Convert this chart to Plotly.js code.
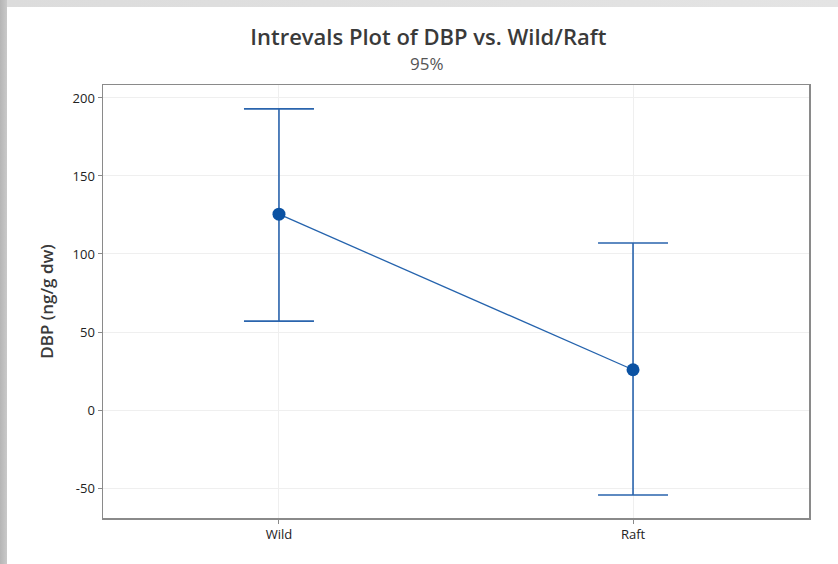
<!DOCTYPE html>
<html>
<head>
<meta charset="utf-8">
<script src="https://cdn.plot.ly/plotly-3.0.1.min.js"></script>
<style>
html,body{margin:0;padding:0;width:838px;height:564px;overflow:hidden;
background:linear-gradient(90deg,#b5b5b5 0px,#c9c9c9 7px,#dcdcdc 7px,#e4e4e4 100%);}
#chart{position:absolute;left:7px;top:7px;width:831px;height:557px;background:#fff;}
</style>
</head>
<body>
<div id="chart"></div>
<script>
var categories = ["Wild", "Raft"];
var means = [125.5, 25.8];
var upper = [193.0, 107.0];
var lower = [57.0, -54.5];
var yTicks = [-50, 0, 50, 100, 150, 200];
var yTickLabels = ["-50", "0", "50", "100", "150", "200"];

var plus = means.map(function(m, i){ return upper[i] - m; });
var minus = means.map(function(m, i){ return m - lower[i]; });

var trace = {
  x: [0, 1],
  y: means,
  type: 'scatter',
  mode: 'lines+markers',
  line: {color: '#2563ad', width: 1.3},
  marker: {color: '#0b52a3', size: 13},
  error_y: {
    type: 'data', symmetric: false,
    array: plus, arrayminus: minus,
    color: '#2a64ad', thickness: 1.6, width: 35
  },
  hoverinfo: 'none'
};

var layout = {
  width: 831, height: 557,
  margin: {l: 96, r: 29, t: 78, b: 46},
  paper_bgcolor: '#ffffff',
  plot_bgcolor: '#ffffff',
  showlegend: false,
  font: {family: 'Open Sans, Noto Sans, sans-serif', color: '#222'},
  title: {
    text: 'Intrevals Plot of DBP vs. Wild/Raft',
    font: {size: 22, color: '#3a3a3a', family: 'Open Sans, sans-serif', weight: 600},
    x: 0.507, xanchor: 'center',
    y: 1 - 30/557, yref: 'container', yanchor: 'middle'
  },
  annotations: [{
    text: '95%', showarrow: false,
    xref: 'paper', yref: 'paper',
    x: (420 - 96) / 706, y: 1 + (78 - 56) / 433,
    xanchor: 'center', yanchor: 'middle',
    font: {size: 17, color: '#555'}
  }],
  xaxis: {
    range: [-0.497, 1.497],
    tickvals: [0, 1], ticktext: categories,
    showgrid: true, gridcolor: '#efefef', gridwidth: 1,
    zeroline: false,
    showline: true, linecolor: '#8a8a8a', linewidth: 1.5, mirror: true,
    ticks: 'outside', ticklen: 4, tickcolor: '#8a8a8a',
    tickfont: {size: 13, color: '#222', weight: 500}
  },
  yaxis: {
    range: [-69.2, 208.3],
    tickvals: yTicks, ticktext: yTickLabels,
    showgrid: true, gridcolor: '#efefef', gridwidth: 1,
    zeroline: false,
    showline: true, linecolor: '#8a8a8a', linewidth: 1.5, mirror: true,
    ticks: 'outside', ticklen: 4, tickcolor: '#8a8a8a',
    tickfont: {size: 13, color: '#222', weight: 500},
    title: {text: 'DBP (ng/g dw)', font: {size: 17, color: '#3a3a3a', weight: 600}, standoff: 14}
  }
};

Plotly.newPlot('chart', [trace], layout, {displayModeBar: false, staticPlot: true});
</script>
</body>
</html>
